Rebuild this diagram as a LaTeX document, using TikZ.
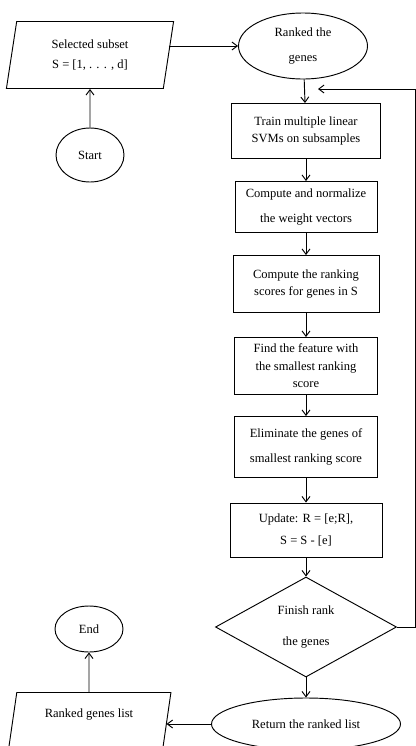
\documentclass[tikz,border=0pt]{standalone}
\usepackage{fontspec}
\setmainfont{Liberation Serif}
\usetikzlibrary{shapes.geometric,arrows.meta}
\tikzset{
    arr/.style={-{Straight Barb[length=1.6mm,width=2.4mm]}, line width=0.8pt},
    proc/.style={draw, line width=0.8pt, align=center, inner sep=1pt},
    term/.style={draw, ellipse, line width=0.8pt, align=center, inner sep=0pt},
    io/.style={draw, trapezium, trapezium left angle=80, trapezium right angle=100,
        trapezium stretches=true, line width=0.8pt, align=center, inner sep=0pt},
}
\begin{document}
\begin{tikzpicture}[x=0.03cm, y=-0.03cm, font=\fontsize{10.7}{15}\selectfont]
    \useasboundingbox (0,0) rectangle (416,746);
    \node[io, minimum width=5.04cm, minimum height=2.01cm] (sel) at (90,55) {Selected subset\\[2pt]S = [1, . . . , d]};
    \node[term, minimum width=3.87cm, minimum height=1.98cm] (rank) at (303,46) {Ranked the\\[6pt]genes};
    \node[term, minimum width=2.04cm, minimum height=1.62cm] (start) at (90,155) {Start};
    \node[proc, minimum width=4.47cm, minimum height=1.65cm] (train) at (306,131) {Train multiple linear\\SVMs on subsamples};
    \node[proc, minimum width=4.26cm, minimum height=1.53cm] (norm) at (306,207) {Compute and normalize\\[6pt]the weight vectors};
    \node[proc, minimum width=4.38cm, minimum height=1.71cm] (score) at (306,284) {Compute the ranking\\scores for genes in S};
    \node[proc, minimum width=4.29cm, minimum height=1.71cm] (find) at (306,366) {Find the feature with\\the smallest ranking\\score};
    \node[proc, minimum width=4.29cm, minimum height=1.83cm] (elim) at (306,447) {Eliminate the genes of\\[6pt]smallest ranking score};
    \node[proc, minimum width=4.56cm, minimum height=1.62cm] (upd) at (306,530) {Update: R = [e;R],\\[4pt]S = S - [e]};
    \node[draw, diamond, line width=0.8pt, align=center, inner sep=0pt,
        minimum width=5.43cm, minimum height=3cm] (dec) at (306,627) {Finish rank\\[12pt]the genes};
    \node[term, minimum width=5.67cm, minimum height=1.56cm] (ret) at (306,724) {Return the ranked list};
    \node[io, minimum width=4.95cm, minimum height=2.01cm, text depth=0.75cm] (out) at (89,726) {Ranked genes list};
    \node[term, minimum width=2.04cm, minimum height=1.38cm] (end) at (89,629) {End};
    \coordinate (loop) at (415,89);
    \coordinate (j) at (318,89);
    \draw[arr] (start) -- (sel);
    \draw[arr] (rank.west -| sel.east) -- (rank.west);
    \foreach \a/\b in {rank/train, train/norm, norm/score, score/find, find/elim, elim/upd, upd/dec, dec/ret} {
        \draw[arr] (\a) -- (\b);
    }
    \draw[arr] (dec.east) -| (loop) -- (j);
    \draw[arr] (ret.west) -- (ret.west -| out.east);
    \draw[arr] (out) -- (end);
\end{tikzpicture}
\end{document}
